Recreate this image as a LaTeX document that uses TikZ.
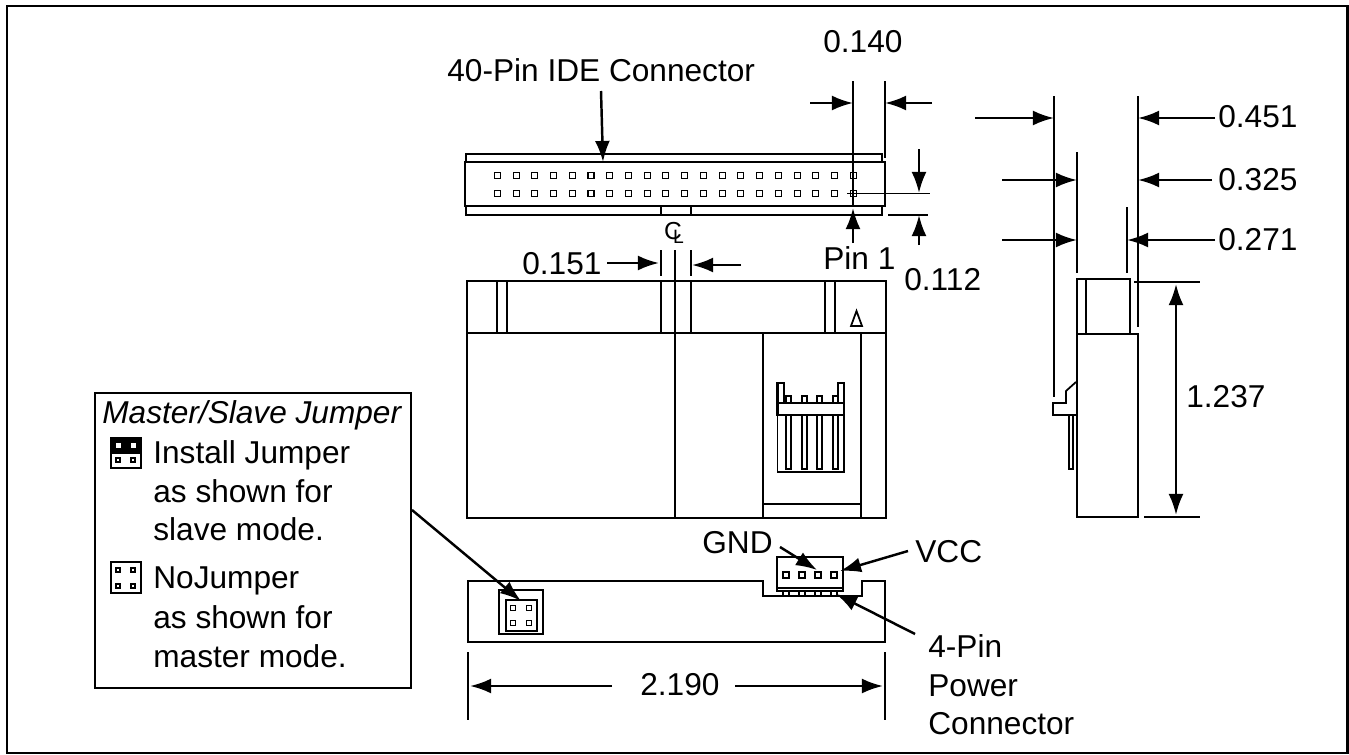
\documentclass[tikz,border=0pt]{standalone}
\usepackage{fontspec}
\setmainfont{Liberation Sans}
\usetikzlibrary{arrows.meta}
\tikzstyle{label} = [inner sep=0pt, anchor=base west, font=\fontsize{18}{22}\selectfont]
\tikzstyle{body} = [draw, line width=1.5pt]
\tikzstyle{thin} = [draw, line width=0.7pt]
\tikzstyle{pin} = [draw, line width=0.6pt, fill=white, minimum size=0pt]
\tikzstyle{leader} = [draw, line width=1.4pt, -{Latex[length=12pt,width=8.5pt]}]
\tikzstyle{dimboth} = [draw, line width=1.4pt, {Latex[length=12pt,width=8.5pt]}-{Latex[length=12pt,width=8.5pt]}]
\begin{document}
\begin{tikzpicture}[x=0.02cm, y=-0.02cm]
            \useasboundingbox (0,0) rectangle (1349,754);
            \draw [line width=1.4pt] (7,6) rectangle (1347.5,753);
            % Place labels
            \node [label] (ide) at (447,81) {40-Pin IDE Connector};
            \node [label] (d140) at (823,52) {0.140};
            \node [label] (d451) at (1218,127) {0.451};
            \node [label] (d325) at (1218,190) {0.325};
            \node [label] (d271) at (1218,250) {0.271};
            \node [label] (d151) at (522,274) {0.151};
            \node [label] (d112) at (904,290) {0.112};
            \node [label] (pinone) at (823,269) {Pin 1};
            \node [label] (d1237) at (1186,407) {1.237};
            \node [label] (d2190) at (640,695) {2.190};
            \node [label] (gnd) at (702,553) {GND};
            \node [label] (vcc) at (915,562) {VCC};
            \node [label] (power1) at (928,657) {4-Pin};
            \node [label] (power2) at (928,696) {Power};
            \node [label] (power3) at (928,734) {Connector};
            \node [label, font=\fontsize{18}{22}\selectfont\itshape] (master) at (102,423) {Master/Slave Jumper};
            \node [label] (inst1) at (153,463) {Install Jumper};
            \node [label] (inst2) at (153,502) {as shown for};
            \node [label] (inst3) at (153,540) {slave mode.};
            \node [label] (nojmp1) at (153,588) {NoJumper};
            \node [label] (nojmp2) at (153,628) {as shown for};
            \node [label] (nojmp3) at (153,667) {master mode.};
            \node [inner sep=0pt, font=\fontsize{14}{14}\selectfont] (center) at (674,233) {C\kern-5pt\raisebox{-2.5pt}{\fontsize{11}{11}\selectfont L}};
            % IDE connector, top view
            \path [body] (466,162) -- (466,154) -- (882,154) -- (882,162);
            \path [body] (466,206) -- (466,215) -- (882,215) -- (882,206);
            \path [body] (465,162) rectangle (885,206);
            \path [body] (661,206) -- (661,215) (691,206) -- (691,215);
            \foreach \i in {0,...,19} {
                \path [pin] ({497.3+18.74*\i-3},172.7) rectangle +(6,6);
                \path [pin] ({497.3+18.74*\i-3},190.7) rectangle +(6,6);
            }
            % Front view
            \path [body] (467,281) rectangle (886,333);
            \path [body] (467,333) rectangle (886,518);
            \path [body] (497,281) rectangle (507,333);
            \path [body] (661,281) rectangle (691,333);
            \path [body] (825,281) rectangle (835,333);
            \path [thin, line width=1pt] (851,326) -- (856.5,311) -- (862,326) -- cycle;
            \path [body] (763,333) -- (763,518) (861,333) -- (861,518) (763,504) -- (861,504);
            \path [thin, line width=1pt] (777.5,403) rectangle (844,472);
            \path [thin, line width=1.2pt] (777.5,403) -- (777.5,383) -- (784,383) -- (784,403);
            \path [thin, line width=1.2pt] (838,403) -- (838,383) -- (844,383) -- (844,403);
            \path [thin, line width=1.2pt] (777.5,403) rectangle (844,415);
            \foreach \x in {786,802,817,833} {
                \path [thin, line width=1.1pt] (\x,403) -- (\x,396) -- ({\x+5},396) -- ({\x+5},403);
                \path [thin, line width=1.1pt] (\x,415) rectangle ({\x+5},469);
            }
            % Side view
            \path [body] (1077,279) rectangle (1130,334);
            \path [body] (1086,279) -- (1086,334);
            \path [body] (1077,334) rectangle (1138,517);
            \path [thin, line width=1pt] (1076,382) -- (1066,391) -- (1066,403) -- (1053,403) -- (1053,415) -- (1076,415);
            \path [thin, line width=1pt] (1069,415) rectangle (1073,469);
            % Bottom view
            \path [body] (468,581) -- (763,581) -- (763,596) -- (862,596) -- (862,581) -- (885,581) -- (885,642) -- (468,642) -- cycle;
            \path [thin, line width=0.9pt] (499,590) rectangle (543,634);
            \path [thin, line width=1.2pt] (506,600) rectangle (537,631);
            \foreach \x in {513,529} \foreach \y in {608,623}
                \path [pin] ({\x-2.5},{\y-2.5}) rectangle +(5,5);
            \path [draw, fill=white, line width=0.9pt] (777,557) rectangle (843,591);
            \path [thin, line width=1.2pt] (777,588) -- (843,588);
            \foreach \x in {786,802,818,834} {
                \path [pin] ({\x-3},572) rectangle +(6,6);
                \path [pin] ({\x-3},591) rectangle +(6,5);
            }
            % Legend
            \path [thin] (95,393) rectangle (411,688);
            \path [thin, line width=0.9pt] (111,438) rectangle (141,468);
            \fill (111,438) rectangle (141,454);
            \foreach \x in {118,133} {
                \path [draw=white, fill=white] ({\x-2},443) rectangle +(4,4);
                \path [pin] ({\x-2},458) rectangle +(4,4);
                \path [pin] ({\x-2},568) rectangle +(4,4);
                \path [pin] ({\x-2},584) rectangle +(4,4);
            }
            \path [thin, line width=0.9pt] (111,562) rectangle (141,593);
            % Extension lines
            \path [thin] (853,81) -- (853,205);
            \path [thin] (885,81) -- (885,158);
            \path [thin] (847,193.7) -- (930,193.7);
            \path [thin] (888,215) -- (928,215);
            \path [thin] (661,250) -- (661,276);
            \path [thin] (675,250) -- (675,518);
            \path [thin] (691,250) -- (691,276);
            \path [thin] (1054,96) -- (1054,397);
            \path [thin] (1077,152) -- (1077,273);
            \path [thin] (1127,207) -- (1127,273);
            \path [thin] (1138,96) -- (1138,327);
            \path [thin] (1134,282) -- (1200,282);
            \path [thin] (1144,517) -- (1200,517);
            \path [thin] (468,652) -- (468,720);
            \path [thin] (885,652) -- (885,720);
            % Arrow ends
            \coordinate (idefrom) at (601,91);
            \coordinate (ideto) at (603,162);
            \coordinate (a140l) at (810,103);
            \coordinate (a140lt) at (853,103);
            \coordinate (a140r) at (932,103);
            \coordinate (a140rt) at (885,103);
            \coordinate (pinfrom) at (853,243);
            \coordinate (pinto) at (853,208);
            \coordinate (a112u) at (919,149);
            \coordinate (a112ut) at (919,193);
            \coordinate (a112d) at (919,245);
            \coordinate (a112dt) at (919,215);
            \coordinate (a151l) at (607,263);
            \coordinate (a151lt) at (659,263);
            \coordinate (a151r) at (741,265);
            \coordinate (a151rt) at (692,265);
            \coordinate (a451l) at (975,118);
            \coordinate (a451lt) at (1054,118);
            \coordinate (a451r) at (1215,118);
            \coordinate (a451rt) at (1138,118);
            \coordinate (a325l) at (1002,180);
            \coordinate (a325lt) at (1077,180);
            \coordinate (a325r) at (1212,180);
            \coordinate (a325rt) at (1138,180);
            \coordinate (a271l) at (1002,240);
            \coordinate (a271lt) at (1077,240);
            \coordinate (a271r) at (1215,240);
            \coordinate (a271rt) at (1127,240);
            \coordinate (a1237t) at (1176,284);
            \coordinate (a1237b) at (1176,515);
            \coordinate (a2190l) at (612,686);
            \coordinate (a2190lt) at (470,686);
            \coordinate (a2190r) at (735,686);
            \coordinate (a2190rt) at (883,686);
            \coordinate (gndfrom) at (780,547);
            \coordinate (gndto) at (817,570);
            \coordinate (vccfrom) at (908,551);
            \coordinate (vccto) at (840,571);
            \coordinate (powfrom) at (915,634);
            \coordinate (powto) at (836,594);
            \coordinate (jmpfrom) at (412,510);
            \coordinate (jmpto) at (521,601);
            % Draw arrows
            \path [leader] (idefrom) -- (ideto);
            \path [leader] (a140l) -- (a140lt);
            \path [leader] (a140r) -- (a140rt);
            \path [leader] (pinfrom) -- (pinto);
            \path [leader] (a112u) -- (a112ut);
            \path [leader] (a112d) -- (a112dt);
            \path [leader] (a151l) -- (a151lt);
            \path [leader] (a151r) -- (a151rt);
            \path [leader] (a451l) -- (a451lt);
            \path [leader] (a451r) -- (a451rt);
            \path [leader] (a325l) -- (a325lt);
            \path [leader] (a325r) -- (a325rt);
            \path [leader] (a271l) -- (a271lt);
            \path [leader] (a271r) -- (a271rt);
            \path [dimboth] (a1237t) -- (a1237b);
            \path [leader] (a2190l) -- (a2190lt);
            \path [leader] (a2190r) -- (a2190rt);
            \path [leader] (gndfrom) -- (gndto);
            \path [leader] (vccfrom) -- (vccto);
            \path [leader] (powfrom) -- (powto);
            \path [leader] (jmpfrom) -- (jmpto);
        \end{tikzpicture}
\end{document}
